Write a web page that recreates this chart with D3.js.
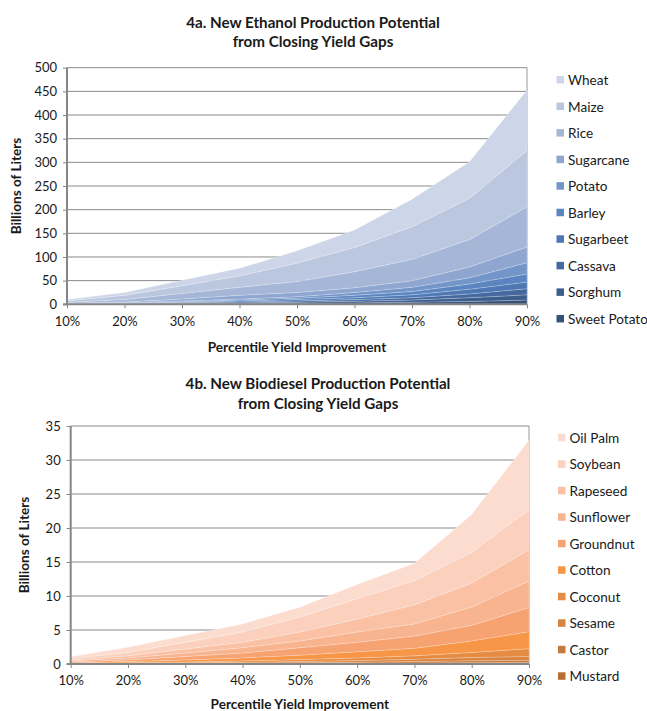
<!DOCTYPE html>
<html><head><meta charset="utf-8">
<script src="https://cdn.jsdelivr.net/npm/d3@7/dist/d3.min.js"></script>
<style>
body{margin:0;background:#fff;}
svg text{font-family:Lato,"Open Sans",sans-serif;fill:#1a1a1a;}
</style></head>
<body><svg id="c" width="647" height="711"></svg>
<script>
const categories = ["10%","20%","30%","40%","50%","60%","70%","80%","90%"];

// Ethanol (billions of liters), stacking order bottom -> top
const ethanolSeries = ["Sweet Potato","Sorghum","Cassava","Sugarbeet","Barley","Potato","Sugarcane","Rice","Maize","Wheat"];
const sweetPotato = [0.2,0.5,1,1.5,2,3,4.5,6,9];
const sorghum     = [0.2,0.7,1,1.5,2.5,3.5,4.5,8,11];
const cassava     = [0.3,0.6,1.2,2,2.5,3.5,5,8,13];
const sugarbeet   = [0.3,0.7,1.3,2,3,4,6,10,14];
const barley      = [0.2,0.5,1,2,3,5,7,11,17];
const potato      = [0.3,1,1.5,2,3,6,9,13,24];
const sugarcane   = [0.5,1,4,8,9,10,14,23,33];
const rice        = [2,5,12,17,23,34,45,58,85];
const maize       = [3,9,16,24,39,51,69,87,119];
const wheat       = [3,6,12,16,26,37,58,77,128];
const ethanolValues = [sweetPotato,sorghum,cassava,sugarbeet,barley,potato,sugarcane,rice,maize,wheat];
const ethanolColors = ["#36527c","#3d5d8d","#45699f","#4d78b4","#5a85c1","#7395c8","#8ea6d0","#a5b6d7","#bac7df","#cdd6e8"];
const ethanolTicks = [0,50,100,150,200,250,300,350,400,450,500];

// Biodiesel (billions of liters), stacking order bottom -> top
const biodieselSeries = ["Mustard","Castor","Sesame","Coconut","Cotton","Groundnut","Sunflower","Rapeseed","Soybean","Oil Palm"];
const mustard   = [0.01,0.03,0.04,0.06,0.08,0.11,0.15,0.2,0.22];
const castor    = [0.02,0.03,0.05,0.07,0.1,0.14,0.2,0.28,0.33];
const sesame    = [0.02,0.04,0.08,0.12,0.18,0.25,0.35,0.47,0.55];
const coconut   = [0.03,0.08,0.13,0.2,0.29,0.4,0.5,0.75,1.15];
const cotton    = [0.07,0.17,0.3,0.45,0.65,0.9,1.1,1.7,2.5];
const groundnut = [0.15,0.25,0.5,0.7,1.1,1.4,1.8,2.3,3.55];
const sunflower = [0.15,0.3,0.5,0.8,1.0,1.5,1.8,2.7,3.9];
const rapeseed  = [0.15,0.3,0.6,0.8,1.3,1.9,2.8,3.5,4.6];
const soybean   = [0.2,0.5,1.0,1.5,2.2,3.0,3.55,4.5,5.9];
const oilPalm   = [0.28,0.76,1.0,1.2,1.45,2.1,2.55,5.6,10.2];
const biodieselValues = [mustard,castor,sesame,coconut,cotton,groundnut,sunflower,rapeseed,soybean,oilPalm];
const biodieselColors = ["#b86f35","#c87a3b","#d8833f","#e68b42","#f79646","#f7a271","#f8b38f","#fac1a5","#fbd0bd","#fcdccf"];
const biodieselTicks = [0,5,10,15,20,25,30,35];

const svg = d3.select("#c");

function drawChart(cfg){
  const g = svg.append("g");
  const x = d3.scalePoint().domain(categories).range([cfg.left, cfg.right]);
  const y = d3.scaleLinear().domain([0, cfg.max]).range([cfg.bottom, cfg.top]);

  // titles
  g.append("text").attr("x", cfg.titleX).attr("y", cfg.titleY)
    .attr("text-anchor","middle").attr("font-weight","bold").attr("font-size",15.2)
    .text(cfg.title1);
  g.append("text").attr("x", cfg.titleX).attr("y", cfg.titleY+cfg.titleGap)
    .attr("text-anchor","middle").attr("font-weight","bold").attr("font-size",15.2)
    .text(cfg.title2);

  // gridlines
  g.append("g").selectAll("line").data(cfg.ticks.filter(t=>t>0)).join("line")
    .attr("x1", cfg.left).attr("x2", cfg.right)
    .attr("y1", d=>y(d)).attr("y2", d=>y(d))
    .attr("stroke","#8a8a8a").attr("stroke-width",1);
  // right border
  g.append("line").attr("x1",cfg.right).attr("x2",cfg.right).attr("y1",cfg.top).attr("y2",cfg.bottom)
    .attr("stroke","#9a9a9a").attr("stroke-width",1);

  // stacked areas
  const rows = categories.map((c,i)=>{
    const r = {cat:c};
    cfg.series.forEach((s,j)=>{ r[s]=cfg.values[j][i]; });
    return r;
  });
  const stack = d3.stack().keys(cfg.series)(rows);
  const area = d3.area().x(d=>x(d.data.cat)).y0(d=>y(d[0])).y1(d=>y(d[1]));
  g.append("g").selectAll("path").data(stack).join("path")
    .attr("d", area).attr("fill",(d,i)=>cfg.colors[i])
    .attr("stroke","#ffffff").attr("stroke-opacity",0.35).attr("stroke-width",0.6);

  // axes
  const ya = g.append("g").attr("transform",`translate(${cfg.left},0)`)
    .call(d3.axisLeft(y).tickValues(cfg.ticks).tickSize(4).tickPadding(6).tickFormat(d3.format("d")));
  const xa = g.append("g").attr("transform",`translate(0,${cfg.bottom})`)
    .call(d3.axisBottom(x).tickSize(4).tickPadding(8));
  [ya,xa].forEach(a=>{
    a.select(".domain").attr("stroke","#868686").attr("stroke-width",2);
    a.selectAll(".tick line").attr("stroke","#868686").attr("stroke-width",1);
    a.selectAll(".tick text").attr("font-size",13).attr("fill","#1a1a1a")
      .attr("font-family","Lato, 'Open Sans', sans-serif");
  });
  ya.select(".domain").attr("d",`M-4,${cfg.bottom}H0V${cfg.top}`);
  xa.select(".domain").attr("d",`M${cfg.left},0H${cfg.right}`);

  // axis titles
  g.append("text").attr("transform",`translate(${cfg.yTitleX},${(cfg.top+cfg.bottom)/2}) rotate(-90)`)
    .attr("text-anchor","middle").attr("dominant-baseline","central")
    .attr("font-weight","bold").attr("font-size",13.6).text("Billions of Liters");
  g.append("text").attr("x",(cfg.left+cfg.right)/2).attr("y",cfg.xTitleY)
    .attr("text-anchor","middle").attr("dominant-baseline","central")
    .attr("font-weight","bold").attr("font-size",13.6).text("Percentile Yield Improvement");

  // legend (reverse order: top layer first)
  const legendItems = cfg.series.map((s,i)=>({s, c:cfg.colors[i]})).reverse();
  const lg = g.append("g").selectAll("g").data(legendItems).join("g")
    .attr("transform",(d,i)=>`translate(${cfg.legendX},${cfg.legendY + i*cfg.legendStep})`);
  lg.append("rect").attr("x",0).attr("y",-3.5).attr("width",7.5).attr("height",7.5).attr("fill",d=>d.c);
  lg.append("text").attr("x",11.5).attr("y",0.5).attr("dominant-baseline","central")
    .attr("font-size",13.6).text(d=>d.s);
}

drawChart({
  title1:"4a. New Ethanol Production Potential", title2:"from Closing Yield Gaps",
  titleX:313, titleY:28, titleGap:19,
  left:67, right:527, top:67.7, bottom:304.3, max:500, ticks:ethanolTicks,
  series:ethanolSeries, values:ethanolValues, colors:ethanolColors,
  yTitleX:16, xTitleY:347,
  legendX:556.5, legendY:79.5, legendStep:26.55
});
drawChart({
  title1:"4b. New Biodiesel Production Potential", title2:"from Closing Yield Gaps",
  titleX:318, titleY:389, titleGap:20,
  left:70.7, right:529, top:426, bottom:664, max:35, ticks:biodieselTicks,
  series:biodieselSeries, values:biodieselValues, colors:biodieselColors,
  yTitleX:24, xTitleY:703.5,
  legendX:558, legendY:437.3, legendStep:26.5
});
</script></body></html>
